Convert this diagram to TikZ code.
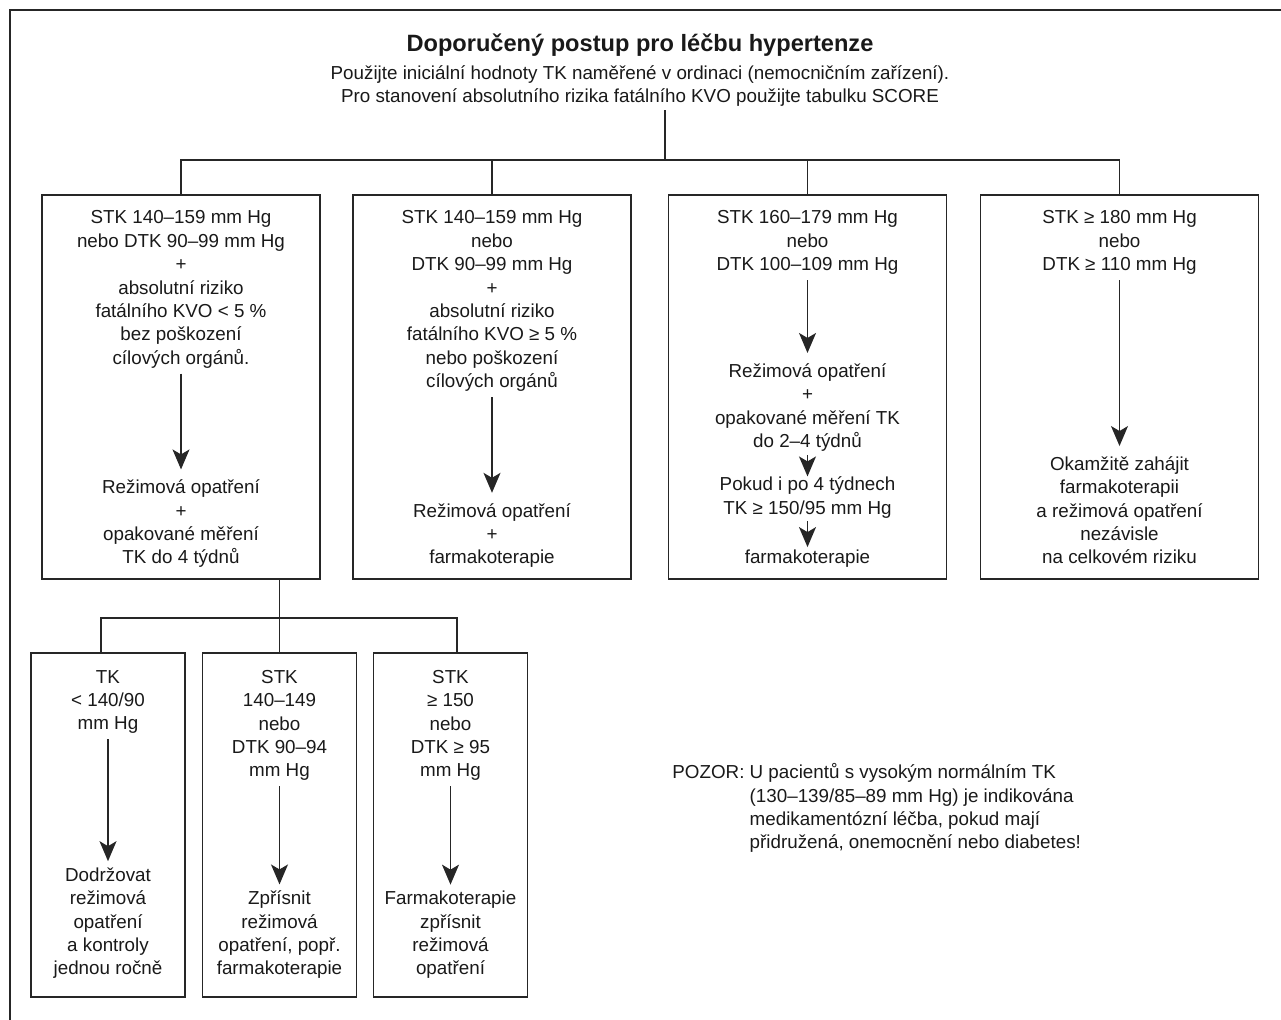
\documentclass[tikz,border=0pt]{standalone}
\usepackage{fontspec}
\setmainfont{Liberation Sans}
\usetikzlibrary{positioning, calc, arrows.meta}

\tikzset{
	box/.style={draw=black!85, line width=0.7pt, rectangle, inner sep=0pt,
		minimum width=139pt, minimum height=192pt},
	smallbox/.style={box, minimum width=77pt, minimum height=172pt},
	txt/.style={align=center, inner sep=0pt, text=black!90,
		font=\fontsize{9.4}{11.7}\selectfont,
		execute at begin node=\strut, execute at end node=\strut},
	link/.style={draw=black!85, line width=0.7pt},
	flow/.style={link, -{Stealth[length=10pt, width=8.5pt, inset=2.5pt]},
		shorten <=1pt, shorten >=5pt},
	tipflow/.style={flow, shorten <=0pt, shorten >=0pt},
}

\begin{document}
\begin{tikzpicture}[x=0.5pt, y=-0.5pt]
	\useasboundingbox (0,0) rectangle (1281,1020);
	\clip (0,0) rectangle (1281,1020);
	\draw[link] (10,10) rectangle (1300,1040);

	\node[txt, font=\fontsize{11.8}{14}\selectfont\bfseries] (title) at (640,46)
		{Doporučený postup pro léčbu hypertenze};
	\node[txt, anchor=north] (sub) at (640,65)
		{Použijte iniciální hodnoty TK naměřené v ordinaci (nemocničním zařízení).\\
		Pro stanovení absolutního rizika fatálního KVO použijte tabulku SCORE};
	\coordinate (hub) at (665,160);

	\node[box] (mild)     at (181,387)    {};
	\node[box] (risky)    at (492,387)    {};
	\node[box] (moderate) at (807.5,387)  {};
	\node[box] (severe)   at (1119.5,387) {};

	\draw[link] (sub.south -| hub) -- (hub);
	\draw[link] (mild.north) |- (hub) -| (severe.north);
	\draw[link] (risky.north) -- (risky.north |- hub);
	\draw[link] (moderate.north) -- (moderate.north |- hub);

	\node[txt, below=8pt of mild.north] (mild-in)
		{STK 140–159 mm Hg\\nebo DTK 90–99 mm Hg\\+\\absolutní riziko\\
		fatálního KVO < 5 \%\\bez poškození\\cílových orgánů.};
	\node[txt, above=4.2pt of mild.south] (mild-out)
		{Režimová opatření\\+\\opakované měření\\TK do 4 týdnů};
	\draw[flow] (mild-in) -- (mild-out);

	\node[txt, below=8pt of risky.north] (risky-in)
		{STK 140–159 mm Hg\\nebo\\DTK 90–99 mm Hg\\+\\absolutní riziko\\
		fatálního KVO ≥ 5 \%\\nebo poškození\\cílových orgánů};
	\node[txt, above=4.2pt of risky.south] (risky-out)
		{Režimová opatření\\+\\farmakoterapie};
	\draw[flow] (risky-in) -- (risky-out);

	\node[txt, below=8pt of moderate.north] (moderate-in)
		{STK 160–179 mm Hg\\nebo\\DTK 100–109 mm Hg};
	\node[txt, above=4.2pt of moderate.south] (moderate-out)
		{farmakoterapie};
	\node[txt, above=12.8pt of moderate-out] (moderate-check)
		{Pokud i po 4 týdnech\\TK ≥ 150/95 mm Hg};
	\node[txt, above=10.8pt of moderate-check] (moderate-step)
		{Režimová opatření\\+\\opakované měření TK\\do 2–4 týdnů};
	\draw[flow] (moderate-in) -- (moderate-step);
	\draw[tipflow] (moderate-step) -- (moderate-check);
	\draw[tipflow] (moderate-check) -- (moderate-out);

	\node[txt, below=8pt of severe.north] (severe-in)
		{STK ≥ 180 mm Hg\\nebo\\DTK ≥ 110 mm Hg};
	\node[txt, above=4.2pt of severe.south] (severe-out)
		{Okamžitě zahájit\\farmakoterapii\\a režimová opatření\\nezávisle\\
		na celkovém riziku};
	\draw[flow] (severe-in) -- (severe-out);

	\node[smallbox] (normal) at (108,825)   {};
	\node[smallbox] (border) at (279.5,825) {};
	\node[smallbox] (high)   at (450.5,825) {};
	\coordinate (split) at (279.5,618);

	\draw[link] (mild.south -| border.north) -- (border.north);
	\draw[link] ([xshift=-3.5pt]normal.north) |- (split) -| ([xshift=3.25pt]high.north);

	\node[txt, below=8.7pt of normal.north] (normal-in)
		{TK\\< 140/90\\mm Hg};
	\node[txt, above=7.7pt of normal.south] (normal-out)
		{Dodržovat\\režimová\\opatření\\a kontroly\\jednou ročně};
	\draw[flow, shorten >=3pt] (normal-in) -- (normal-out);

	\node[txt, below=8.7pt of border.north] (border-in)
		{STK\\140–149\\nebo\\DTK 90–94\\mm Hg};
	\node[txt, above=7.7pt of border.south] (border-out)
		{Zpřísnit\\režimová\\opatření, popř.\\farmakoterapie};
	\draw[flow, shorten >=3pt] (border-in) -- (border-out);

	\node[txt, below=8.7pt of high.north] (high-in)
		{STK\\≥ 150\\nebo\\DTK ≥ 95\\mm Hg};
	\node[txt, above=7.7pt of high.south] (high-out)
		{Farmakoterapie\\zpřísnit\\režimová\\opatření};
	\draw[flow, shorten >=3pt] (high-in) -- (high-out);

	\node[txt, anchor=north west, execute at begin node={}, execute at end node={}]
		(note) at (672,762)
		{\begin{tabular}{@{}l@{\ }l@{}}
		POZOR: & U pacientů s vysokým normálním TK\\
		& (130–139/85–89 mm Hg) je indikována\\
		& medikamentózní léčba, pokud mají\\
		& přidružená, onemocnění nebo diabetes!
		\end{tabular}};
\end{tikzpicture}
\end{document}
